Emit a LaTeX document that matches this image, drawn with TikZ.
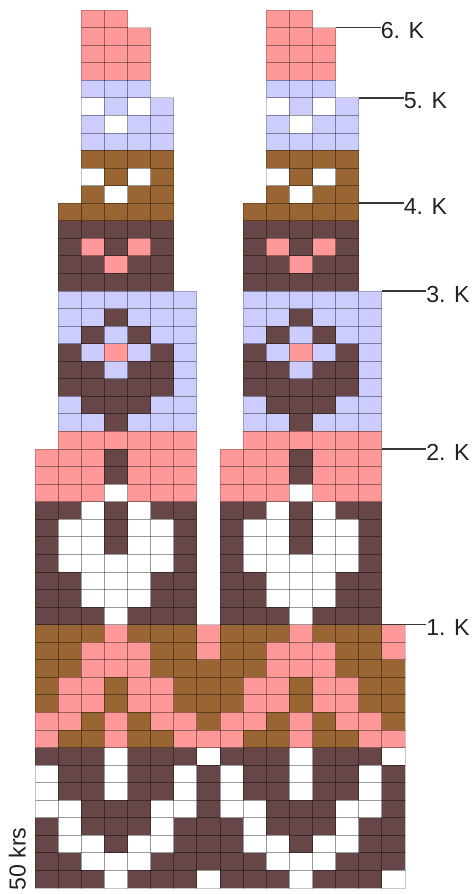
\documentclass[tikz,border=0pt]{standalone}
\usepackage{fontspec}
\setmainfont{Liberation Sans}
\definecolor{cP}{HTML}{FF9999}
\definecolor{cL}{HTML}{CCCCFF}
\definecolor{cB}{HTML}{996633}
\definecolor{cD}{HTML}{664646}
\definecolor{cW}{HTML}{FFFFFF}
\definecolor{labcol}{HTML}{222222}
\def\cellw{23.125}
\def\cellh{17.56}
\def\xorig{35}
\def\yorig{10}
\def\chartrows{%
{N,N,P,P,N,N,N,N},
{N,N,P,P,P,N,N,N},
{N,N,P,P,P,N,N,N},
{N,N,P,P,P,N,N,N},
{N,N,L,L,L,N,N,N},
{N,N,W,L,W,L,N,N},
{N,N,L,W,L,L,N,N},
{N,N,L,L,L,L,N,N},
{N,N,B,B,B,B,N,N},
{N,N,W,B,W,B,N,N},
{N,N,B,W,B,B,N,N},
{N,B,B,B,B,B,N,N},
{N,D,D,D,D,D,N,N},
{N,D,P,D,P,D,N,N},
{N,D,D,P,D,D,N,N},
{N,D,D,D,D,D,N,N},
{N,L,L,L,L,L,L,N},
{N,L,L,D,L,L,L,N},
{N,L,D,L,D,L,L,N},
{N,D,L,P,L,D,L,N},
{N,D,D,L,D,D,L,N},
{N,D,D,D,D,D,L,N},
{N,L,D,D,D,L,L,N},
{N,L,L,D,L,L,L,N},
{N,P,P,P,P,P,P,N},
{P,P,P,D,P,P,P,N},
{P,P,P,D,P,P,P,N},
{P,P,P,W,P,P,P,N},
{D,D,W,D,W,D,D,N},
{D,W,W,D,W,W,D,N},
{D,W,W,D,W,W,D,N},
{D,W,W,W,W,W,D,N},
{D,D,W,W,W,D,D,N},
{D,D,W,W,W,D,D,N},
{D,D,D,W,D,D,D,N},
{B,B,B,P,B,B,B,P},
{B,B,P,P,P,B,B,P},
{B,B,P,P,P,B,B,B},
{B,P,P,B,P,P,B,B},
{B,P,P,B,P,P,B,B},
{P,P,B,P,B,P,P,B},
{P,B,B,P,B,B,P,P},
{D,D,D,W,D,D,D,W},
{W,D,D,W,D,D,W,D},
{W,D,D,W,D,D,W,D},
{W,W,D,D,D,W,W,D},
{D,W,D,D,D,W,D,D},
{D,W,W,D,W,W,D,D},
{D,D,W,W,W,D,D,D},
{D,D,D,W,D,D,D,W}}
\tikzset{
  gridline/.style={draw=black, draw opacity=0.22, line width=0.6pt},
  labline/.style={draw=labcol!90, line width=1.1pt},
  lab/.style={font=\fontsize{17.4}{20}\selectfont, text=labcol, inner sep=0pt, anchor=base west}
}
\begin{document}
\begin{tikzpicture}[x=0.75pt,y=-0.75pt]
\useasboundingbox (0,0) rectangle (473,894);
% fill pass
\foreach \rowspec [count=\r from 0] in \chartrows {
  \foreach \col [count=\i from 0] in \rowspec {
    \if\col N\else
      \foreach \off in {0,8} {
        \fill[fill=c\col] ({\xorig+\cellw*(\i+\off)},{\yorig+\cellh*\r}) rectangle ++(\cellw,\cellh);
      }
    \fi
  }
}
% grid pass
\foreach \rowspec [count=\r from 0] in \chartrows {
  \foreach \col [count=\i from 0] in \rowspec {
    \if\col N\else
      \foreach \off in {0,8} {
        \draw[gridline] ({\xorig+\cellw*(\i+\off)},{\yorig+\cellh*\r}) rectangle ++(\cellw,\cellh);
      }
    \fi
  }
}
% labels
\coordinate (s6) at (335.6,27.56);
\coordinate (s5) at (358.75,97.8);
\coordinate (s4) at (358.75,203.2);
\coordinate (s3) at (381.9,291.0);
\coordinate (s2) at (381.9,449.0);
\coordinate (s1) at (381.9,624.6);
\node[lab] (l6) at (380.5,38.6) {6. K};
\node[lab] (l5) at (403.5,108.9) {5. K};
\node[lab] (l4) at (403.5,214.3) {4. K};
\node[lab] (l3) at (426,302.1) {3. K};
\node[lab] (l2) at (426,460.1) {2. K};
\node[lab] (l1) at (426,635.7) {1. K};
\draw[labline] (s6) -- (s6 -| l6.west);
\draw[labline] (s5) -- (s5 -| l5.west);
\draw[labline] (s4) -- (s4 -| l4.west);
\draw[labline] (s3) -- (s3 -| l3.west);
\draw[labline] (s2) -- (s2 -| l2.west);
\draw[labline] (s1) -- (s1 -| l1.west);
\node[lab, rotate=90] (krs) at (25.5,891) {50 krs};
\end{tikzpicture}
\end{document}
